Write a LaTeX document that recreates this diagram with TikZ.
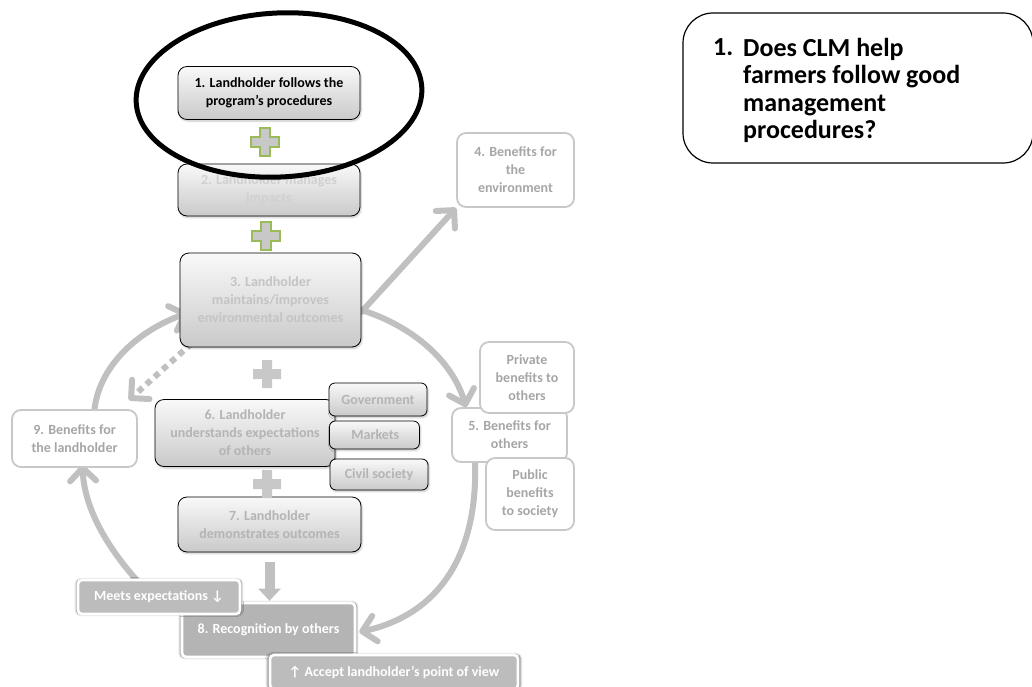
\documentclass[tikz,border=0pt]{standalone}
\usepackage{fontspec}
\setmainfont{Carlito}
\usetikzlibrary{arrows.meta,calc,shadows.blur}
\definecolor{flowgray}{RGB}{192,192,192}
\definecolor{faintText}{RGB}{196,196,196}
\definecolor{paleText}{RGB}{208,208,208}
\definecolor{midText}{RGB}{180,180,180}
\definecolor{outlineGray}{RGB}{200,200,200}
\definecolor{outlineText}{RGB}{166,166,166}
\definecolor{plusGreen}{RGB}{155,187,89}
\definecolor{plusFill}{RGB}{200,200,200}
\definecolor{tagFill}{RGB}{188,188,188}
\definecolor{recogFill}{RGB}{180,180,180}
\pgfdeclarelayer{flows}
\pgfsetlayers{flows,main}
\begin{document}
\begin{tikzpicture}[x=1pt,y=-1pt,
  boxfont/.style={font=\bfseries\fontsize{14}{18}\selectfont},
  stepbox/.style={boxfont, draw=black, line width=0.8pt, rounded corners=9pt,
    top color=gray!5, bottom color=gray!42, align=center, inner sep=2pt,
    blur shadow={shadow xshift=1pt, shadow yshift=-1.5pt, shadow blur steps=4, shadow opacity=25}},
  fadedbox/.style={stepbox, text=faintText},
  sidebox/.style={stepbox, rounded corners=6pt, text=midText},
  outlinebox/.style={boxfont, draw=outlineGray, line width=1.8pt, fill=white,
    rounded corners=9pt, text=outlineText, align=center, inner sep=2pt},
  tagbox/.style={boxfont, draw=white, line width=2.6pt, fill=tagFill, text=white,
    rounded corners=4pt, inner sep=2pt,
    blur shadow={shadow xshift=0pt, shadow yshift=0pt, shadow scale=1.02,
      shadow blur radius=2pt, shadow blur steps=4, shadow opacity=55}},
  flow/.style={draw=flowgray, line width=6pt, line cap=round,
    -{Straight Barb[length=13pt,width=26pt,round]}},
  dottedflow/.style={flow, line cap=butt, dash pattern=on 6pt off 5pt},
  blockarrow/.style={draw=flowgray, line width=10pt, -{Triangle[length=12pt,width=22pt]}},
  qfont/.style={font=\bfseries\fontsize{26}{27.5}\selectfont},
  crossmark/.pic={\path[pic actions] (-5,-14) -- (5,-14) -- (5,-5) -- (14,-5) -- (14,5)
    -- (5,5) -- (5,14) -- (-5,14) -- (-5,5) -- (-14,5) -- (-14,-5) -- (-5,-5) -- cycle;}
]
\useasboundingbox (0,0) rectangle (1032,687);

% ---------- step boxes of the main chain ----------
\node[stepbox, minimum width=182pt, minimum height=53pt] (b1) at (269,93)
  {1. Landholder follows the\\program’s procedures};
\node[fadedbox, text=paleText, minimum width=182pt, minimum height=52pt] (b2) at (269,190)
  {2. Landholder manages\\impacts};
\node[fadedbox, minimum width=181pt, minimum height=94pt] (b3) at (270.5,300)
  {3. Landholder\\maintains/improves\\environmental outcomes};
\node[fadedbox, text=midText, minimum width=180pt, minimum height=67pt] (b6) at (245,433)
  {6. Landholder\\understands expectations\\of others};
\node[fadedbox, text=midText, minimum width=183pt, minimum height=55pt] (b7) at (269.5,524.5)
  {7. Landholder\\demonstrates outcomes};

% ---------- the three groups of others ----------
\node[sidebox, minimum width=98pt, minimum height=33pt] (gov) at (378,399.5) {Government};
\node[sidebox, minimum width=90pt, minimum height=28pt, anchor=west] (mkt) at (329,435) {\hspace{2pt}Markets};
\node[sidebox, minimum width=98pt, minimum height=31pt] (civ) at (379,474.5) {Civil society};

% ---------- plus signs between the steps ----------
\pic[fill=plusFill, draw=plusGreen, line width=1.6pt] at (265,142) {crossmark};
\pic[fill=plusFill, draw=plusGreen, line width=1.6pt] at (266,236) {crossmark};
\pic[fill=plusFill] at (267,374) {crossmark};
\pic[fill=plusFill] at (267,484) {crossmark};

% ---------- benefit boxes ----------
\node[outlinebox, minimum width=125pt, minimum height=57pt] (b9) at (74.5,438.5)
  {9. Benefits for\\the landholder};
\node[outlinebox, minimum width=117pt, minimum height=74pt] (b4) at (515.5,170)
  {4. Benefits for\\the\\environment};
\node[outlinebox, minimum width=115pt, minimum height=54pt] (b5) at (509.5,435)
  {5. Benefits for\\others};
\node[outlinebox, minimum width=94pt, minimum height=71pt] (priv) at (527,377.5)
  {Private\\benefits to\\others};
\node[outlinebox, minimum width=88pt, minimum height=72pt] (pub) at (530,494)
  {Public\\benefits\\to society};

% ---------- recognition by others ----------
\node[tagbox, fill=recogFill, minimum width=173pt, minimum height=54pt] (b8) at (268.5,630)
  {8. Recognition by others};
\node[tagbox, minimum width=162pt, minimum height=34pt] (meets) at (159,597)
  {Meets expectations ↓};
\node[tagbox, minimum width=248pt, minimum height=34pt] (accept) at (394,672)
  {↑ Accept landholder’s point of view};

% ---------- flows of the cycle, behind the boxes ----------
\begin{pgfonlayer}{flows}
\draw[flow] ($(b3.east)+(0,12)$) -- (b4.south west);
\draw[flow] ($(b3.east)+(0,10)$)
  .. controls (412,326) and (452,360) .. ($(b5.north west)+(15,0)$);
\draw[flow] ($(b5.south west)+(24,0)$)
  .. controls (478,572) and (424,618) .. ($(b8.east)+(3,2)$);
\draw[flow] ($(b9.north)+(20,0)$)
  .. controls (100,364) and (140,330) .. ($(b3.west)+(8,13)$);
\draw[dottedflow] ($(b3.south west)+(12,-4)$) -- ($(b9.north east)+(-9,-9)$);
\coordinate (loopstart) at (142,586);
\draw[flow] (loopstart) .. controls (104,545) and (84,505) .. ($(b9.south)+(8,-3)$);
\draw[blockarrow] ($(b7.south)+(0,10)$) -- ($(b7.south |- b8.north)+(0,-1)$);
\end{pgfonlayer}

% ---------- highlight of the first step ----------
\draw[line width=5pt, rotate around={3:(279,95)}] (279,95) ellipse [x radius=143pt, y radius=82pt];

% ---------- question box ----------
\node[draw=black, line width=1.2pt, rounded corners=30pt, minimum width=350pt,
  minimum height=150pt] (q) at (858,88) {};
\node[qfont, anchor=north west, inner sep=0pt] (qnum) at (713,38) {1.};
\node[qfont, anchor=north west, align=left, inner sep=0pt]
  (qtext) at (743,38) {Does CLM help\\farmers follow good\\management\\procedures?};
\end{tikzpicture}
\end{document}
